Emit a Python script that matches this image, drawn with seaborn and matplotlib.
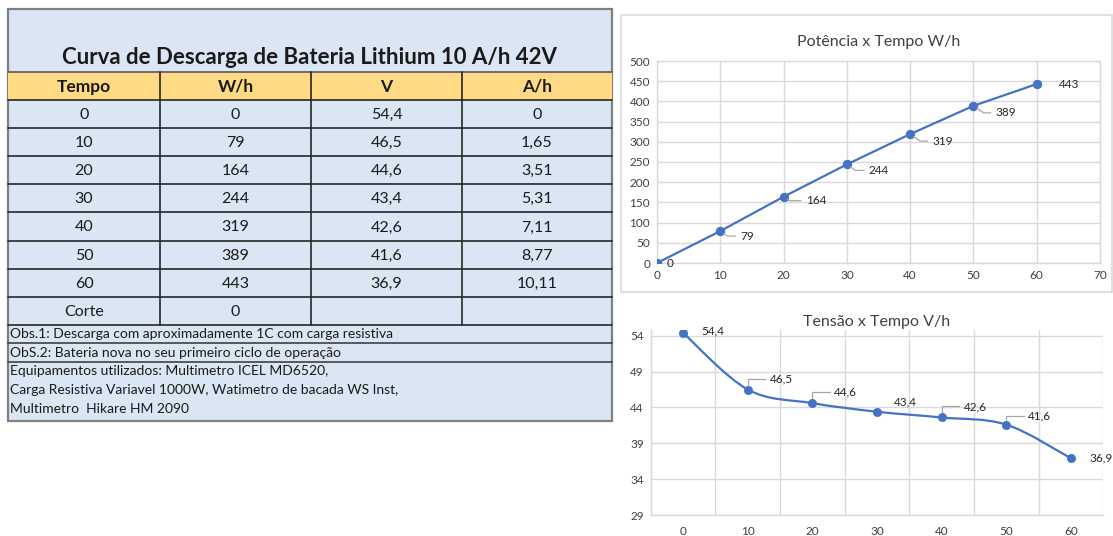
import numpy as np
import matplotlib
matplotlib.use("Agg")
import matplotlib.pyplot as plt
import seaborn as sns
from matplotlib.patches import Rectangle, PathPatch
from matplotlib.path import Path

# dados da tabela / graficos
tempo = [0, 10, 20, 30, 40, 50, 60]
potencia = [0, 79, 164, 244, 319, 389, 443]
tensao = [54.4, 46.5, 44.6, 43.4, 42.6, 41.6, 36.9]
corrente = ["0", "1,65", "3,51", "5,31", "7,11", "8,77", "10,11"]

cabecalho = ["Tempo", "W/h", "V", "A/h"]
titulo_tabela = "Curva de Descarga de Bateria Lithium 10 A/h 42V"
obs = ["Obs.1: Descarga com aproximadamente 1C com carga resistiva",
       "ObS.2: Bateria nova no seu primeiro ciclo de operação"]
equip = ["Equipamentos utilizados: Multimetro ICEL MD6520,",
         "Carga Resistiva Variavel 1000W, Watimetro de bacada WS Inst,",
         "Multimetro  Hikare HM 2090"]

sns.set_theme(style="white")
plt.rcParams['font.family'] = ['Lato', 'DejaVu Sans']

AZUL = "#4472C4"
GRADE = "#D9D9D9"
TXT = "#404040"

fig = plt.figure(figsize=(11.13, 5.36), dpi=100)
fig.patch.set_facecolor("white")

# ===============================
# Tabela (coordenadas em pixels)
# ===============================
tab = fig.add_axes([0, 0, 1, 1])
tab.set_xlim(0, 1113)
tab.set_ylim(536, 0)
tab.axis("off")

fundo = "#DAE6F3"
cols = [8, 160, 311, 462, 612]
y_cab = 72
y_dados = 100
h_linha = 28.1
y_obs = y_dados + 8 * h_linha
y_fim = 421

tab.add_patch(Rectangle((8, 9), 604, y_fim - 9, facecolor=fundo,
                        edgecolor="#7F7F7F", lw=1.6))
tab.add_patch(Rectangle((8, y_cab), 604, y_dados - y_cab,
                        facecolor="#FFDA85", edgecolor="none"))
tab.text(310, 58, titulo_tabela, ha="center", va="center",
         fontsize=16, fontweight="bold", color="#1a1a1a")

for i, c in enumerate(cabecalho):
    tab.text((cols[i] + cols[i + 1]) / 2, 87, c, ha="center", va="center",
             fontsize=12.5, fontweight="bold", color="#1a1a1a")

linhas = [[str(t), str(p), f"{v:.1f}".replace(".", ","), a]
          for t, p, v, a in zip(tempo, potencia, tensao, corrente)]
linhas.append(["Corte", "0", "", ""])
for r, linha in enumerate(linhas):
    yc = y_dados + (r + 0.5) * h_linha
    for i, val in enumerate(linha):
        tab.text((cols[i] + cols[i + 1]) / 2, yc + 1, val, ha="center",
                 va="center", fontsize=11.5, color="#1a1a1a")

# linhas da tabela
tab.plot([8, 612], [y_cab, y_cab], color="#595959", lw=1.2)
for r in range(9):
    y = y_dados + r * h_linha
    tab.plot([8, 612], [y, y], color="#262626", lw=1.2)
for x in cols[1:-1]:
    tab.plot([x, x], [y_cab, y_obs], color="#262626", lw=1.2)

y_o2 = y_obs + 18.5
y_eq = y_o2 + 18.5
for y in [y_o2, y_eq]:
    tab.plot([8, 612], [y, y], color="#404040", lw=1.2)
tab.text(10, y_obs + 9.5, obs[0], ha="left", va="center", fontsize=10,
         color="#1a1a1a")
tab.text(10, y_o2 + 9.5, obs[1], ha="left", va="center", fontsize=10,
         color="#1a1a1a")
for k, t in enumerate(equip):
    tab.text(10, y_eq + 9.5 + k * 19, t, ha="left", va="center",
             fontsize=10, color="#1a1a1a")

# moldura do grafico 1
tab.add_patch(Rectangle((621, 15), 491, 277, facecolor="none",
                        edgecolor=GRADE, lw=1.2))


def estilo(ax):
    ax.set_facecolor("none")
    for s in ax.spines.values():
        s.set_color(GRADE)
        s.set_linewidth(1.0)
    ax.tick_params(axis="both", length=0, labelsize=8.5, colors=TXT, pad=5)
    ax.set_xlabel("")
    ax.set_ylabel("")


# ===============================
# Grafico 1: Potencia x Tempo
# ===============================
ax1 = fig.add_axes([657 / 1113, 1 - 263 / 536, 443 / 1113, 202 / 536])
sns.lineplot(x=tempo, y=potencia, ax=ax1, color=AZUL, lw=1.6,
             marker="o", markersize=6, markeredgecolor=AZUL, zorder=3)
ax1.set_xlim(0, 70)
ax1.set_ylim(0, 500)
ax1.set_xticks(range(0, 71, 10))
ax1.set_yticks(range(0, 501, 50))
ax1.grid(True, color=GRADE, lw=1.0)
estilo(ax1)
ax1.set_title("Potência x Tempo W/h", fontsize=11.5, color=TXT, pad=11)

desloc1 = [(10, 0, False), (20, -5, True), (22, -4, True), (22, -6, True),
           (22, -7, True), (22, -7, True), (22, 0, False)]
for x, y, (dx, dy, guia) in zip(tempo, potencia, desloc1):
    ax1.annotate(str(y), (x, y), xytext=(dx, dy), textcoords="offset pixels",
                 ha="left", va="center", fontsize=8.5, color="#262626",
                 arrowprops=dict(arrowstyle="-", color="#A6A6A6", lw=0.9,
                                 shrinkA=1, shrinkB=3,
                                 connectionstyle="angle,angleA=0,angleB=-35")
                 if guia else None)

# ===============================
# Grafico 2: Tensao x Tempo
# ===============================
idx = np.arange(len(tempo))
ax2 = fig.add_axes([650.7 / 1113, 1 - 515 / 536, 452.7 / 1113, 185 / 536])

# curva suavizada (estilo Excel)
pts = np.column_stack([idx, tensao]).astype(float)
verts = [tuple(pts[0])]
codes = [Path.MOVETO]
for i in range(len(pts) - 1):
    p0 = pts[max(i - 1, 0)]
    p1 = pts[i]
    p2 = pts[i + 1]
    p3 = pts[min(i + 2, len(pts) - 1)]
    c1 = p1 + (p2 - p0) / 6
    c2 = p2 - (p3 - p1) / 6
    verts += [tuple(c1), tuple(c2), tuple(p2)]
    codes += [Path.CURVE4] * 3
ax2.add_patch(PathPatch(Path(verts, codes), facecolor="none",
                        edgecolor=AZUL, lw=1.6, zorder=3))
sns.scatterplot(x=idx, y=tensao, ax=ax2, color=AZUL, s=36,
                edgecolor=AZUL, zorder=4)
ax2.set_xlim(-0.5, len(tempo) - 0.5)
ax2.set_ylim(29, 54.8)
ax2.set_xticks(idx)
ax2.set_xticklabels([str(t) for t in tempo])
ax2.set_xticks(np.arange(-0.5, len(tempo)), minor=True)
ax2.set_yticks(range(29, 55, 5))
ax2.grid(True, which="minor", axis="x", color=GRADE, lw=1.0)
ax2.grid(True, which="major", axis="y", color=GRADE, lw=1.0)
estilo(ax2)
ax2.tick_params(axis="x", which="both", length=0, pad=8)
ax2.spines["top"].set_visible(False)
ax2.spines["right"].set_visible(False)
ax2.set_title("Tensão x Tempo V/h", fontsize=11.5, color=TXT, pad=3)

desloc2 = [(18, 2, False), (22, 11, True), (22, 11, True), (17, 10, False),
           (22, 11, True), (22, 9, True), (18, 0, False)]
for x, y, (dx, dy, guia) in zip(idx, tensao, desloc2):
    ax2.annotate(f"{y:.1f}".replace(".", ","), (x, y), xytext=(dx, dy),
                 textcoords="offset pixels", ha="left", va="center",
                 fontsize=8.5, color="#262626",
                 arrowprops=dict(arrowstyle="-", color="#A6A6A6", lw=0.9,
                                 shrinkA=1, shrinkB=3,
                                 connectionstyle="angle,angleA=0,angleB=90")
                 if guia else None)

fig.savefig("out.png", dpi=100)
